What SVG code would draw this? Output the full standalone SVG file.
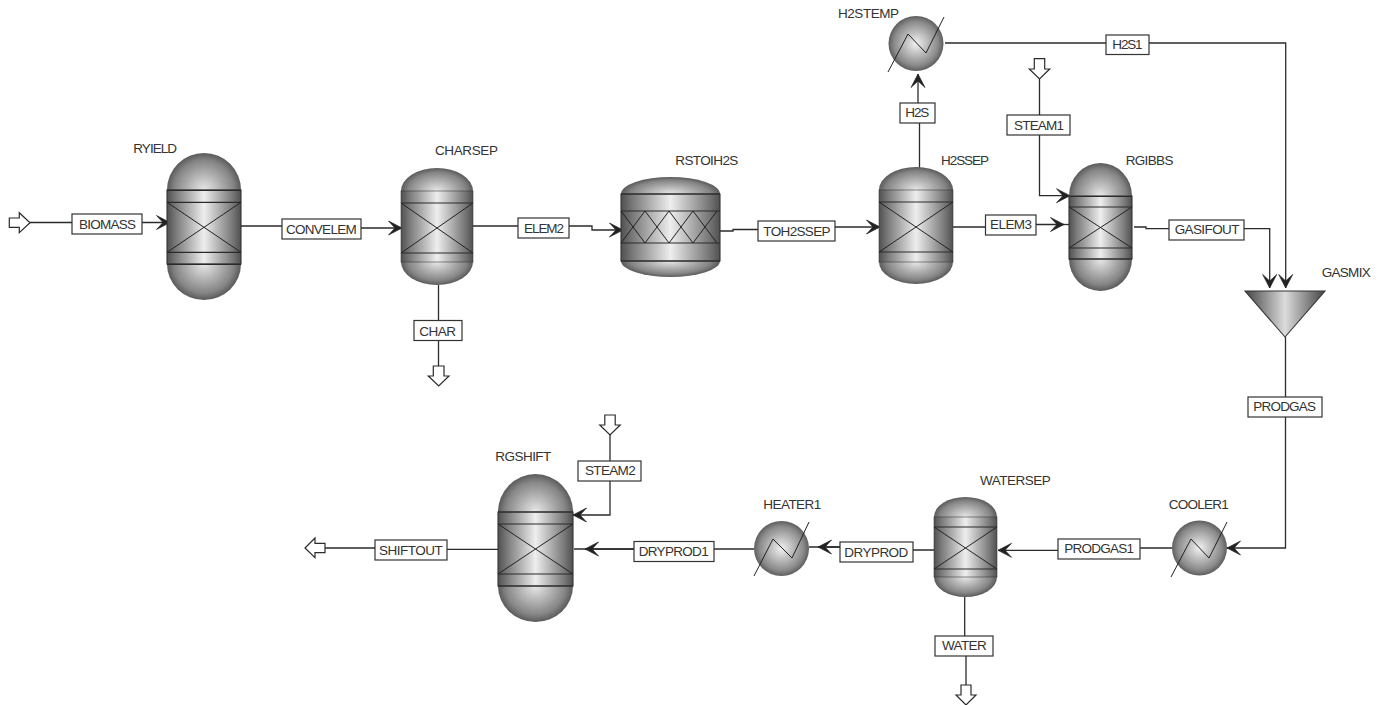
<svg xmlns="http://www.w3.org/2000/svg" width="1381" height="705" viewBox="0 0 1381 705">
<style>
text{font-family:"Liberation Sans",Arial,sans-serif;font-size:13.5px;fill:#333}
.c{fill:none;stroke:#2b2b2b;stroke-width:1.3}
.a{marker-end:url(#barb)}
.blk{fill:#fff;stroke:#2b2b2b;stroke-width:1.2;stroke-linejoin:miter}
.lb{fill:#fff;stroke:#333;stroke-width:1.2}
.body{fill:url(#lin);stroke:#333;stroke-width:1.1}
.top{fill:url(#capT)}
.bot{fill:url(#capB)}
.band{stroke:#2a2a2a;stroke-width:1.2;fill:none}
.x{stroke:#222;stroke-width:1;fill:none}
.ex{fill:url(#rad)}
.tri{fill:url(#triG);stroke:#333;stroke-width:1.1}
</style>
<defs>
<linearGradient id="lin" x1="0" y1="0" x2="1" y2="0">
<stop offset="0" stop-color="#505050"/><stop offset=".12" stop-color="#7a7a7a"/><stop offset=".5" stop-color="#eeeeee"/><stop offset=".88" stop-color="#7a7a7a"/><stop offset="1" stop-color="#505050"/>
</linearGradient>
<linearGradient id="triG" x1="0" y1="0" x2="1" y2="0">
<stop offset="0" stop-color="#444"/><stop offset=".5" stop-color="#dcdcdc"/><stop offset="1" stop-color="#444"/>
</linearGradient>
<radialGradient id="capT" cx=".5" cy="1" r=".5" gradientTransform="translate(.5 1) scale(1 2) translate(-.5 -1)">
<stop offset="0" stop-color="#e8e8e8"/><stop offset=".8" stop-color="#858585"/><stop offset="1" stop-color="#5a5a5a"/>
</radialGradient>
<radialGradient id="capB" cx=".5" cy="0" r=".5" gradientTransform="translate(.5 0) scale(1 2) translate(-.5 0)">
<stop offset="0" stop-color="#e8e8e8"/><stop offset=".8" stop-color="#858585"/><stop offset="1" stop-color="#5a5a5a"/>
</radialGradient>
<radialGradient id="rad" cx=".5" cy=".5" r=".5">
<stop offset="0" stop-color="#f2f2f2"/><stop offset=".8" stop-color="#8a8a8a"/><stop offset="1" stop-color="#5e5e5e"/>
</radialGradient>
<marker id="barb" markerUnits="userSpaceOnUse" markerWidth="18" markerHeight="18" refX="15" refY="9" orient="auto">
<path d="M1.5,2 L15,9 L1.5,16 L8,9 Z" fill="#222" stroke="#222" stroke-width=".7" stroke-linejoin="round"/>
</marker>
</defs>

<g id="connectors">
<path class="c a" d="M30,222.5H170"/>
<path class="c a" d="M241,226H321V228H402"/>
<path class="c" d="M438.5,285V366"/>
<path class="c a" d="M473,226H592V230H623"/>
<path class="c a" d="M720,231H733V229.5H800V227H880"/>
<path class="c a" d="M919.5,168V113H918V74"/>
<path class="c a" d="M945,43H1285.7V288"/>
<path class="c a" d="M1039.5,79V195.7H1070"/>
<path class="c a" d="M953,227H1010V224.5H1064"/>
<path class="c" d="M1064,224.5H1069"/>
<path class="c a" d="M1134,227H1146V228.7H1269.7V288"/>
<path class="c a" d="M1285.5,337V548H1227"/>
<path class="c a" d="M1172,548H1100V550.3H998"/>
<path class="c" d="M934,550H880V547H809"/>
<path class="c a" d="M880,547H818"/>
<path class="c" d="M754,549H574"/>
<path class="c a" d="M700,549H585"/>
<path class="c a" d="M610,435V515H573"/>
<path class="c" d="M498,549.3H420V548H325"/>
<path class="c" d="M964.7,597V646H966V685"/>
<polygon class="blk" points="9.3,218 19.3,218 19.3,212.7 30,222.7 19.3,232.7 19.3,227.3 9.3,227.3"/>
<polygon class="blk" points="433.3,366 444,366 444,376 449,376 438.7,386 428.3,376 433.3,376"/>
<polygon class="blk" points="1034.3,58.7 1044.7,58.7 1044.7,69 1049.7,69 1039.5,79 1029.3,69 1034.3,69"/>
<polygon class="blk" points="604.8,415 615.2,415 615.2,425 620.2,425 610,435 599.8,425 604.8,425"/>
<polygon class="blk" points="305,548 315,538 315,543.3 325,543.3 325,552.7 315,552.7 315,557.7"/>
<polygon class="blk" points="961,685 971,685 971,695 976,695 966,705 956,695 961,695"/>
</g>

<g id="RYIELD">
<path class="top" d="M167,190A37,37 0 0 1 241,190Z"/><path class="bot" d="M167,264A37,36 0 0 0 241,264Z"/>
<rect class="body" x="167" y="190" width="74" height="74"/>
<path class="band" d="M167,190.3H241M167,202.3H241M167,252.3H241M167,264.3H241"/>
<path class="x" d="M167,202.3L241,252.3M167,252.3L241,202.3"/>
<text x="133.3" y="153" textLength="43.7">RYIELD</text>
</g>
<g id="CHARSEP">
<path class="top" d="M401,191A36,23 0 0 1 473,191Z"/><path class="bot" d="M401,262A36,23 0 0 0 473,262Z"/>
<rect class="body" x="401" y="191" width="72" height="71" stroke-opacity=".5"/>
<path class="band" d="M401,203H473M401,253H473"/>
<path class="x" d="M401,203L473,253M401,253L473,203"/>
<text x="435" y="155" textLength="63">CHARSEP</text>
</g>
<g id="RSTOIH2S">
<path class="top" d="M621,194A49.5,17 0 0 1 720,194Z"/><path class="bot" d="M621,261A49.5,16 0 0 0 720,261Z"/>
<rect class="body" x="621" y="194" width="99" height="67"/>
<path class="band" d="M621,194H720M621,211H720M621,243H720M621,261H720"/>
<path class="x" d="M621,211L645,243L669,211L693,243L717,211M621,243L645,211L669,243L693,211L717,243"/>
<text x="675.3" y="165" textLength="63">RSTOIH2S</text>
</g>
<g id="H2SSEP">
<path class="top" d="M879,190A37,23 0 0 1 953,190Z"/><path class="bot" d="M879,262A37,22 0 0 0 953,262Z"/>
<rect class="body" x="879" y="190" width="74" height="72" stroke-opacity=".5"/>
<path class="band" d="M879,202H953M879,252H953"/>
<path class="x" d="M879,202L953,252M879,252L953,202"/>
<text x="941" y="165" textLength="48">H2SSEP</text>
</g>
<g id="H2STEMP">
<circle class="ex" cx="916" cy="43.5" r="27.5"/>
<path class="x" d="M888,72L908,34L926,53L944,17"/>
<text x="838" y="18" textLength="61">H2STEMP</text>
</g>
<g id="RGIBBS">
<path class="top" d="M1069,196A31.5,33 0 0 1 1132,196Z"/><path class="bot" d="M1069,259A31.5,32 0 0 0 1132,259Z"/>
<rect class="body" x="1069" y="196" width="63" height="63"/>
<path class="band" d="M1069,196.5H1132M1069,207H1132M1069,248H1132M1069,259H1132"/>
<path class="x" d="M1069,207L1132,248M1069,248L1132,207"/>
<text x="1125.7" y="164.7" textLength="47.7">RGIBBS</text>
</g>
<g id="GASMIX">
<polygon class="tri" points="1245,291 1325,291 1285,337"/>
<text x="1321.7" y="277" textLength="49">GASMIX</text>
</g>
<g id="COOLER1">
<circle class="ex" cx="1199.5" cy="548" r="27.5"/>
<path class="x" d="M1171,577L1191,539L1209,558L1227,522"/>
<text x="1168.7" y="509.3" textLength="60">COOLER1</text>
</g>
<g id="WATERSEP">
<path class="top" d="M934,517A31.5,20 0 0 1 997,517Z"/><path class="bot" d="M934,577A31.5,20 0 0 0 997,577Z"/>
<rect class="body" x="934" y="517" width="63" height="60" stroke-opacity=".5"/>
<path class="band" d="M934,527H997M934,569H997"/>
<path class="x" d="M934,527L997,569M934,569L997,527"/>
<text x="980" y="484.7" textLength="70.7">WATERSEP</text>
</g>
<g id="HEATER1">
<circle class="ex" cx="781.5" cy="548.5" r="27.5"/>
<path class="x" d="M754,576L773,539L792,558L809,522"/>
<text x="763.3" y="508.7" textLength="58">HEATER1</text>
</g>
<g id="RGSHIFT">
<path class="top" d="M498,512A37.5,38 0 0 1 573,512Z"/><path class="bot" d="M498,586A37.5,36 0 0 0 573,586Z"/>
<rect class="body" x="498" y="512" width="75" height="74"/>
<path class="band" d="M498,512H573M498,524H573M498,574H573M498,586H573"/>
<path class="x" d="M498,524L573,574M498,574L573,524"/>
<text x="495.3" y="461" textLength="56">RGSHIFT</text>
</g>

<g id="streams">
<g id="s-BIOMASS"><rect class="lb" x="72" y="214" width="70" height="20"/><text x="79" y="228.5" textLength="57">BIOMASS</text></g>
<g id="s-CONVELEM"><rect class="lb" x="282" y="219" width="79" height="20"/><text x="286" y="233.7" textLength="70.7">CONVELEM</text></g>
<g id="s-CHAR"><rect class="lb" x="414" y="320.5" width="48" height="20"/><text x="419.3" y="335.7" textLength="36.7">CHAR</text></g>
<g id="s-ELEM2"><rect class="lb" x="518" y="218" width="51" height="20"/><text x="524" y="233" textLength="40">ELEM2</text></g>
<g id="s-TOH2SSEP"><rect class="lb" x="758" y="221" width="77" height="20"/><text x="763.3" y="235.7" textLength="67.3">TOH2SSEP</text></g>
<g id="s-H2S"><rect class="lb" x="900" y="103" width="35" height="20"/><text x="905.3" y="117.3" textLength="24">H2S</text></g>
<g id="s-ELEM3"><rect class="lb" x="985.5" y="215" width="50.5" height="20"/><text x="990" y="229.3" textLength="42">ELEM3</text></g>
<g id="s-H2S1"><rect class="lb" x="1106" y="35" width="43" height="19.5"/><text x="1112.3" y="49" textLength="30.3">H2S1</text></g>
<g id="s-STEAM1"><rect class="lb" x="1007" y="115" width="63" height="20"/><text x="1014" y="130" textLength="50">STEAM1</text></g>
<g id="s-GASIFOUT"><rect class="lb" x="1169" y="220" width="75" height="20"/><text x="1174.7" y="234" textLength="64.7">GASIFOUT</text></g>
<g id="s-PRODGAS"><rect class="lb" x="1248" y="397" width="74" height="20"/><text x="1253.3" y="411" textLength="62.7">PRODGAS</text></g>
<g id="s-PRODGAS1"><rect class="lb" x="1058" y="539" width="82" height="20"/><text x="1064.3" y="553.3" textLength="69.7">PRODGAS1</text></g>
<g id="s-DRYPROD"><rect class="lb" x="840" y="542" width="73" height="20"/><text x="844.3" y="556.7" textLength="64">DRYPROD</text></g>
<g id="s-WATER"><rect class="lb" x="935" y="636" width="58" height="20"/><text x="942" y="650.3" textLength="44.7">WATER</text></g>
<g id="s-DRYPROD1"><rect class="lb" x="634" y="541.5" width="80" height="20"/><text x="638.7" y="556" textLength="70">DRYPROD1</text></g>
<g id="s-STEAM2"><rect class="lb" x="578" y="461" width="63" height="20"/><text x="585" y="475" textLength="50.7">STEAM2</text></g>
<g id="s-SHIFTOUT"><rect class="lb" x="375" y="540" width="72" height="20"/><text x="379" y="555" textLength="63.7">SHIFTOUT</text></g>
</g>
</svg>
